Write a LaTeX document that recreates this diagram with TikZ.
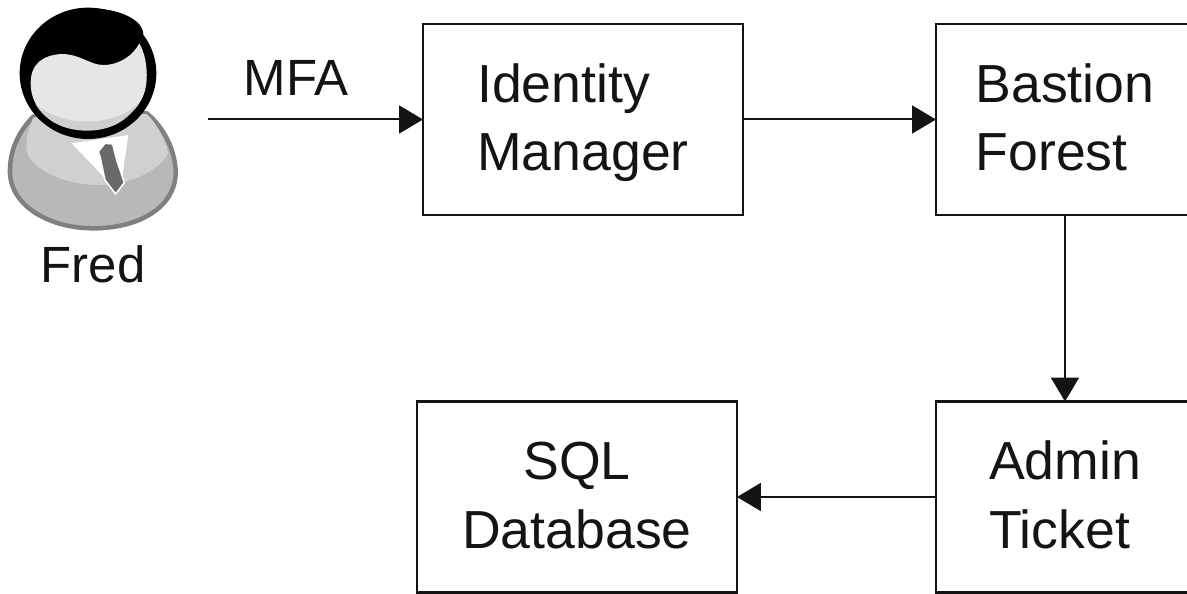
\documentclass[tikz,border=0pt]{standalone}
\usepackage{fontspec}
\setmainfont{Liberation Sans}
\usetikzlibrary{arrows.meta}
\definecolor{inkblack}{RGB}{20,20,20}
\definecolor{suitdark}{RGB}{128,128,128}
\definecolor{suitmid}{RGB}{184,184,184}
\definecolor{suitlight}{RGB}{208,208,208}
\definecolor{facelight}{RGB}{230,230,230}
\definecolor{tiegray}{RGB}{105,105,105}
\newcommand{\twolines}[2]{\rule{0pt}{22pt}#1\\\smash{#2}\rule[-2.7pt]{0pt}{2.7pt}}
\tikzset{
  box/.style={
    draw=inkblack,
    line width=0.055cm,
    minimum width=6.4cm,
    minimum height=3.82cm,
    inner sep=0pt,
    outer sep=0pt,
    text=inkblack,
    font=\fontsize{30.5}{39.1}\selectfont
  },
  box-left/.style={box, align=left},
  box-center/.style={box, align=center},
  box-wide/.style={minimum width=5.16cm},
  label/.style={
    inner sep=0pt,
    text=inkblack,
    font=\fontsize{29}{39}\selectfont
  },
  link/.style={
    draw=inkblack,
    line width=0.04cm,
    -{Triangle[length=0.48cm,width=0.56cm]}
  }
}

\begin{document}
\begin{tikzpicture}[x=0.02cm,y=-0.02cm]
  \useasboundingbox (0,0) rectangle (1187,594);

  % Person, in 3x px
  \begin{scope}[x=0.02cm/3,y=-0.02cm/3]
    % body
    \draw[draw=suitdark,line width=0.09cm,fill=suitmid]
      (100,350) .. controls (50,400) and (28,460) .. (30,520)
      .. controls (35,620) and (150,685) .. (280,685)
      .. controls (420,685) and (525,620) .. (527,520)
      .. controls (527,450) and (490,380) .. (440,340) -- cycle;
    \fill[suitlight]
      (100,352) .. controls (85,390) and (70,430) .. (85,470)
      .. controls (130,530) and (220,555) .. (300,555)
      .. controls (380,555) and (470,520) .. (505,460)
      .. controls (490,410) and (470,370) .. (440,342) -- cycle;
    % shirt and tie
    \fill[white] (215,430) -- (385,405) -- (365,545) -- (320,540) -- cycle;
    \draw[white,line width=0.03cm,fill=tiegray,line join=round]
      (315,430) -- (338,432) -- (350,480) -- (373,548) -- (347,582)
      -- (315,540) -- (300,470) -- (295,455) -- cycle;
    % head
    \fill[black] (264,220) ellipse [x radius=205,y radius=197];
    \fill[facelight]
      (92,250) .. controls (92,190) and (130,165) .. (185,162)
      .. controls (240,162) and (270,195) .. (310,195)
      .. controls (360,195) and (400,165) .. (418,130)
      .. controls (435,160) and (442,200) .. (440,240)
      .. controls (435,330) and (360,380) .. (265,380)
      .. controls (170,380) and (92,340) .. (92,250) -- cycle;
    \fill[suitlight]
      (105,310) .. controls (170,375) and (330,390) .. (415,310)
      .. controls (380,370) and (320,392) .. (262,392)
      .. controls (200,392) and (140,370) .. (105,310) -- cycle;
    % hair
    \fill[black]
      (65,200) .. controls (75,90) and (170,25) .. (270,25)
      .. controls (350,25) and (425,55) .. (430,100)
      -- (418,130) -- (264,120) -- cycle;
  \end{scope}

  \node[label] (fred) at (93,264) {Fred};
  \node[label] (mfa) at (296,78) {MFA};
  \coordinate (fred-out) at (208,119.5);

  \node[box-left] (identity) at (583,119.5) {\twolines{Identity}{Manager}};
  \node[box-left,box-wide] (bastion) at (1065,119.5) {\twolines{Bastion}{Forest}};
  \node[box-left,box-wide] (admin) at (1065,497) {\twolines{Admin}{Ticket}};
  \node[box-center] (sql) at (577,497) {\twolines{SQL}{Database}};

  \draw[link] (fred-out) -- (identity.west);
  \draw[link] (identity.east) -- (bastion.west);
  \draw[link] (bastion.south) -- (admin.north);
  \draw[link] (admin.west) -- (sql.east);
\end{tikzpicture}
\end{document}
